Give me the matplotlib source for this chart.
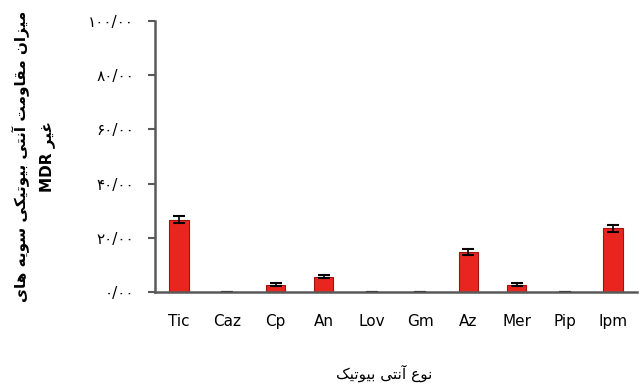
import matplotlib
matplotlib.use("Agg")
import matplotlib.pyplot as plt
import numpy as np

plt.rcParams['font.family'] = ['DejaVu Sans']

# data
antibiotics = ['Tic', 'Caz', 'Cp', 'An', 'Lov', 'Gm', 'Az', 'Mer', 'Pip', 'Ipm']
resistance = [26.7, 0, 2.7, 5.6, 0, 0, 14.8, 2.7, 0, 23.5]
errors = [1.4, 0, 0.6, 0.5, 0, 0, 1.0, 0.6, 0, 1.3]
yticks = [0, 20, 40, 60, 80, 100]

# minimal Persian shaping (matplotlib has no bidi/shaping)
FORMS = {
    'ا': ('\uFE8D', '\uFE8E', None, None),
    'آ': ('\uFE81', '\uFE82', None, None),
    'ب': ('\uFE8F', '\uFE90', '\uFE91', '\uFE92'),
    'ت': ('\uFE95', '\uFE96', '\uFE97', '\uFE98'),
    'ر': ('\uFEAD', '\uFEAE', None, None),
    'ز': ('\uFEAF', '\uFEB0', None, None),
    'س': ('\uFEB1', '\uFEB2', '\uFEB3', '\uFEB4'),
    'ع': ('\uFEC9', '\uFECA', '\uFECB', '\uFECC'),
    'غ': ('\uFECD', '\uFECE', '\uFECF', '\uFED0'),
    'ق': ('\uFED5', '\uFED6', '\uFED7', '\uFED8'),
    'م': ('\uFEE1', '\uFEE2', '\uFEE3', '\uFEE4'),
    'ن': ('\uFEE5', '\uFEE6', '\uFEE7', '\uFEE8'),
    'ه': ('\uFEE9', '\uFEEA', '\uFEEB', '\uFEEC'),
    'و': ('\uFEED', '\uFEEE', None, None),
    'ی': ('\uFBFC', '\uFBFD', '\uFBFE', '\uFBFF'),
    'ک': ('\uFB8E', '\uFB8F', '\uFB90', '\uFB91'),
}


def shape(text):
    out = []
    for i, ch in enumerate(text):
        if ch not in FORMS:
            out.append(ch)
            continue
        f = FORMS[ch]
        prev = text[i - 1] if i > 0 else ''
        nxt = text[i + 1] if i + 1 < len(text) else ''
        join_prev = prev in FORMS and FORMS[prev][2] is not None
        join_next = f[2] is not None and nxt in FORMS
        if join_prev and join_next:
            out.append(f[3])
        elif join_prev:
            out.append(f[1])
        elif join_next:
            out.append(f[2])
        else:
            out.append(f[0])
    return ''.join(reversed(out))


def fa_digits(s):
    return s.translate(str.maketrans('0123456789.', '۰۱۲۳۴۵۶۷۸۹/'))


fig = plt.figure(figsize=(6.39, 3.87), dpi=100)
ax = fig.add_axes([0.2426, 0.2455, 0.7544, 0.7002])

x = np.arange(len(antibiotics))
ax.bar(x, resistance, width=0.4, color='#e8261f', edgecolor='#9e1510', linewidth=0.8,
       yerr=errors, error_kw=dict(ecolor='black', elinewidth=1.2, capsize=4, capthick=1.5))

ax.set_xlim(-0.5, 9.5)
ax.set_ylim(0, 100)
ax.set_yticks(yticks)
ax.set_yticklabels([fa_digits(f'{v:.2f}') for v in yticks], fontsize=11)
ax.set_xticks(x)
ax.set_xticklabels(antibiotics, fontsize=11)

ax.tick_params(axis='y', length=5, width=1.5, color='#595959', pad=10)
ax.tick_params(axis='x', length=0, pad=16)

for side in ['top', 'right']:
    ax.spines[side].set_visible(False)
for side in ['left', 'bottom']:
    ax.spines[side].set_color('#595959')
    ax.spines[side].set_linewidth(1.8)

ylab = shape('میزان مقاومت آنتی بیوتیکی سویه های') + '\n' + 'MDR ' + shape('غیر')
ax.set_ylabel(ylab, fontsize=11, fontweight='bold', linespacing=1.75)
ax.yaxis.set_label_coords(-0.207, 0.5)

ax.set_xlabel(shape('نوع آنتی بیوتیک'), fontsize=11)
ax.xaxis.set_label_coords((384 - 155) / 482, -0.27)

fig.savefig('out.png', dpi=100)
